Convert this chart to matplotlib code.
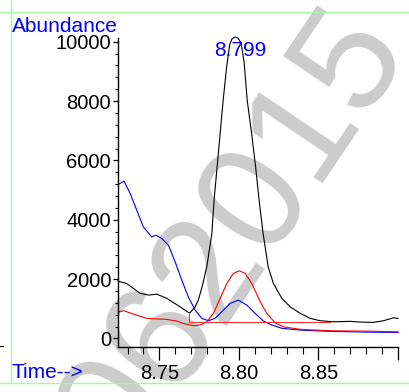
import matplotlib
matplotlib.use("Agg")
import matplotlib.pyplot as plt
from matplotlib.ticker import MultipleLocator, FixedLocator
from matplotlib.lines import Line2D

plt.rcParams['font.family'] = ['Liberation Sans', 'DejaVu Sans']

# black trace (TIC)
black_t = [8.7240, 8.7295, 8.7379, 8.7431, 8.7484, 8.7547, 8.7630, 8.7682, 8.7693,
           8.7725, 8.7745, 8.7769, 8.7798, 8.7830, 8.7844, 8.7863, 8.7882, 8.7901,
           8.7923, 8.7942, 8.7957, 8.7976, 8.7995, 8.8014, 8.8033, 8.8052, 8.8080,
           8.8105, 8.8127, 8.8152, 8.8184, 8.8217, 8.8270, 8.8322, 8.8385, 8.8448,
           8.8511, 8.8594, 8.8699, 8.8762, 8.8846, 8.8909, 8.8972, 8.9000]
black_v = [1930, 1850, 1520, 1460, 1490, 1350, 1065, 875, 865,
           1065, 1290, 1750, 2410, 3540, 4660, 5780, 6900, 8030,
           9150, 9900, 10100, 10160, 10120, 9950, 9300, 8030, 6900,
           5780, 4660, 3540, 2410, 1850, 1350, 1065, 845, 675,
           595, 560, 575, 550, 540, 595, 695, 675]

# blue trace
blue_t = [8.7242, 8.7278, 8.7316, 8.7358, 8.7399, 8.7452, 8.7479, 8.7515, 8.7557,
          8.7599, 8.7641, 8.7682, 8.7725, 8.7767, 8.7808, 8.7850, 8.7892, 8.7945,
          8.7997, 8.8050, 8.8102, 8.8154, 8.8207, 8.8270, 8.8385, 8.8490, 8.8594,
          8.8804, 8.9000]
blue_v = [5190, 5300, 4890, 4320, 3760, 3420, 3480, 3370, 3140,
          2580, 1965, 1400, 955, 675, 595, 675, 895, 1180,
          1290, 1120, 845, 585, 450, 340, 280, 255, 235,
          212, 200]

# red trace
red_t = [8.7242, 8.7278, 8.7336, 8.7421, 8.7547, 8.7609, 8.7651, 8.7714, 8.7756,
         8.7798, 8.7840, 8.7882, 8.7924, 8.7965, 8.8003, 8.8039, 8.8081, 8.8134,
         8.8175, 8.8228, 8.8280, 8.8385, 8.8594, 8.8804, 8.9000]
red_v = [895, 930, 820, 675, 640, 585, 505, 425, 450,
         560, 845, 1350, 1850, 2190, 2280, 2190, 1850, 1235,
         845, 525, 390, 305, 255, 245, 220]

# integration baseline (red)
base_t = [8.7689, 8.7689, 8.8574]
base_v = [865, 560, 560]

peak_label = "8.799"
peak_label_pos = (8.8011, 9514)

x_major = [8.75, 8.80, 8.85, 8.90]
x_labels = ["8.75", "8.80", "8.85", ""]
y_major = [0, 2000, 4000, 6000, 8000, 10000]

W, H = 409, 392
fig = plt.figure(figsize=(W / 100, H / 100), dpi=100)

# watermark behind everything
fig.text(126.3 / W, 1 - 466.4 / H, "062015", fontsize=109, color='#cccccc',
         rotation=56, rotation_mode='anchor', ha='left', va='baseline', zorder=-5)

# green frame lines
green = '#a8f5a8'
fig.add_artist(Line2D([0, 1], [1 - 11.7 / H] * 2, color=green, lw=1))
fig.add_artist(Line2D([0, 1], [1 - 382.7 / H] * 2, color=green, lw=1))
fig.add_artist(Line2D([11 / W] * 2, [1 - 382.7 / H, 1], color=green, lw=1))
fig.add_artist(Line2D([0, 2.5 / W], [1 - 346 / H] * 2, color='black', lw=0.8))

ax = fig.add_axes([118 / W, 1 - 347.3 / H, 280 / W, 309 / H])
ax.patch.set_alpha(0)

ax.plot(black_t, black_v, color='black', lw=0.8, clip_on=False)
ax.plot(blue_t, blue_v, color='#0000ff', lw=0.8, clip_on=False)
ax.plot(red_t, red_v, color='#ff0000', lw=0.8, clip_on=False)
ax.plot(base_t, base_v, color='#ff3030', lw=0.8)

ax.text(*peak_label_pos, peak_label, color='#0000ff', fontsize=15,
        ha='center', va='baseline')

ax.set_xlim(8.724, 8.900)
ax.set_ylim(-300, 10115)

ax.xaxis.set_major_locator(FixedLocator(x_major))
ax.set_xticklabels(x_labels)
ax.xaxis.set_minor_locator(MultipleLocator(0.01))
ax.yaxis.set_major_locator(FixedLocator(y_major))
ax.yaxis.set_minor_locator(MultipleLocator(400))

for s in ['top', 'right']:
    ax.spines[s].set_visible(False)
for s in ['left', 'bottom']:
    ax.spines[s].set_linewidth(1.0)

ax.tick_params(axis='x', which='major', length=9, width=0.9, pad=3, labelsize=14.5)
ax.tick_params(axis='x', which='minor', length=4.8, width=0.8)
ax.tick_params(axis='y', which='major', length=3.5, width=0.9, pad=1.5, labelsize=14.5)
ax.tick_params(axis='y', which='minor', length=2, width=0.8)

fig.text(11.7 / W, 1 - 31.7 / H, "Abundance", color='#0000ff', fontsize=15,
         ha='left', va='baseline')
fig.text(11.7 / W, 1 - 377.5 / H, "Time-->", color='#0000ff', fontsize=15,
         ha='left', va='baseline')

fig.savefig("out.png", dpi=100)
